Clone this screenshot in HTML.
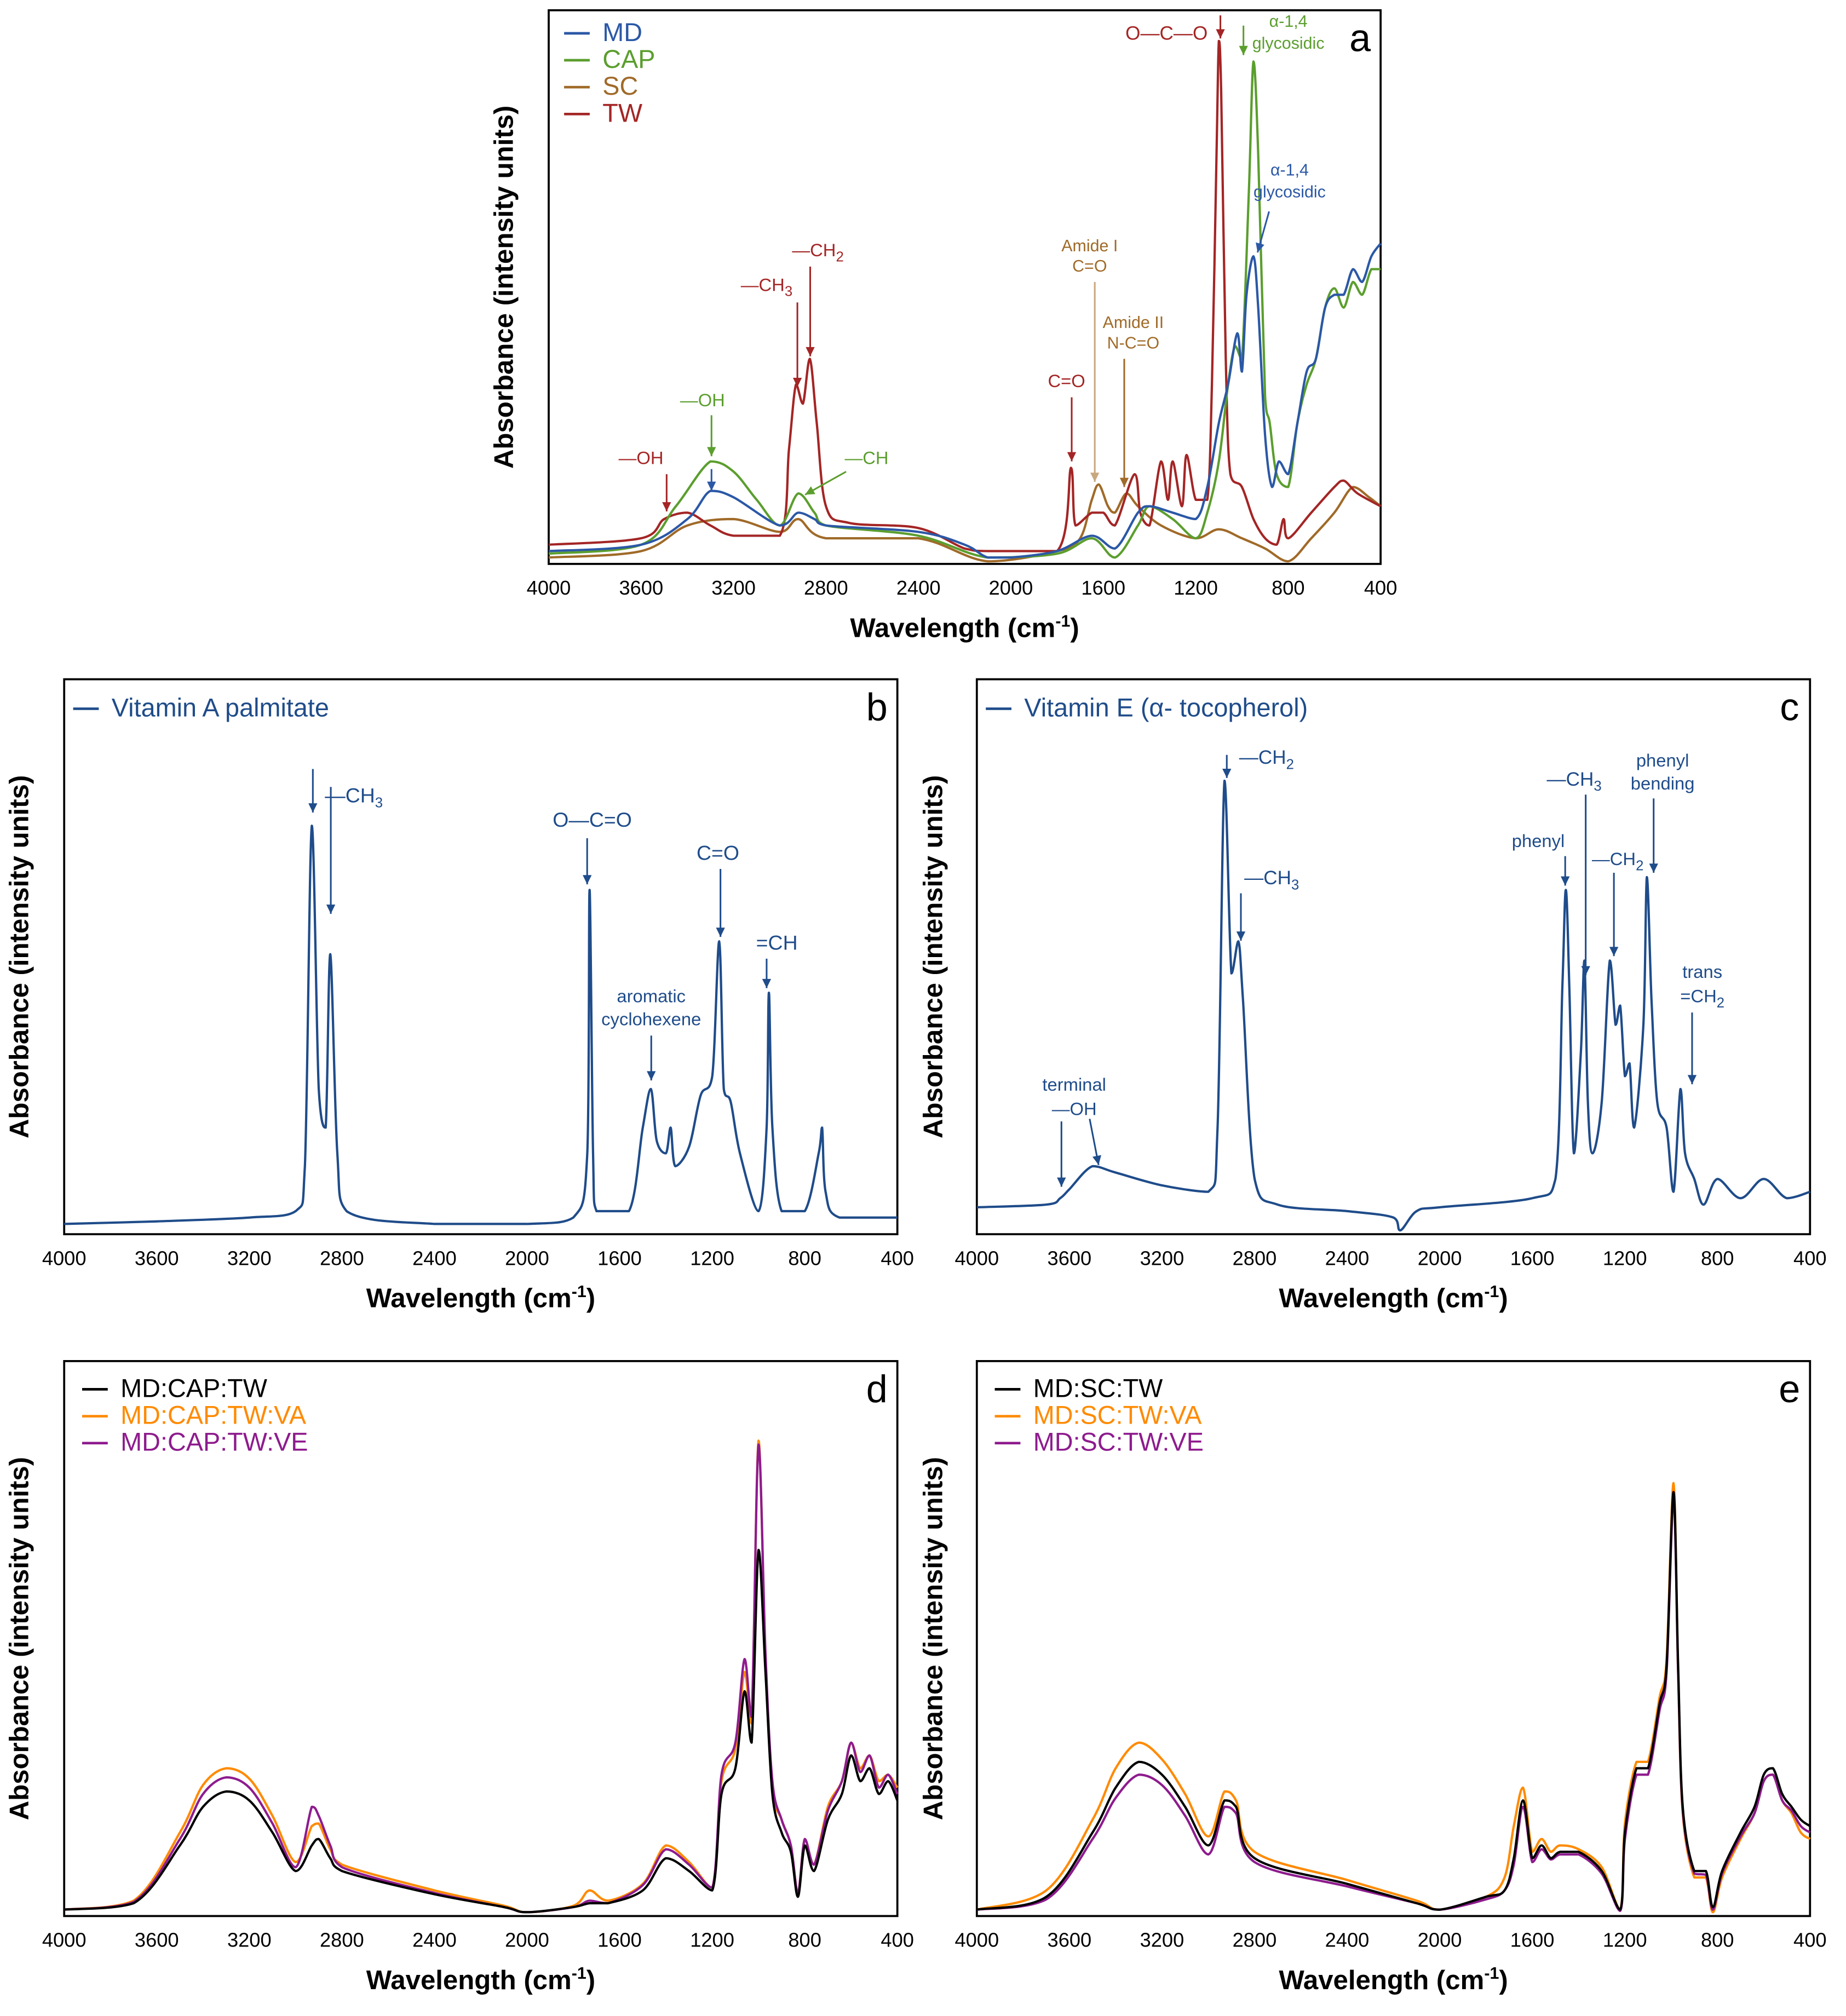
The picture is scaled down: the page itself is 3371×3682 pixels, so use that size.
<!DOCTYPE html>
<html><head><meta charset="utf-8"><style>
html,body{margin:0;padding:0;background:#fff;}
svg{display:block;font-family:"Liberation Sans",sans-serif;}
</style></head><body>
<svg id="fig" width="3371" height="3682" viewBox="0 0 1440 1573" xmlns="http://www.w3.org/2000/svg"></svg>
<script>
// ---------- DATA ----------
const aWn = {
 MD:[4000,3600,3400,3300,3200,3000,2920,2850,2800,2400,2200,2100,2000,1800,1650,1550,1450,1400,1300,1200,1150,1100,1060,1020,1000,980,950,930,900,870,840,800,760,720,680,640,600,560,520,480,440,400],
 CAP:[4000,3600,3450,3300,3200,3100,3000,2920,2850,2800,2400,2100,1800,1650,1550,1450,1400,1300,1200,1150,1100,1060,1030,1000,970,950,930,900,880,850,800,760,720,680,640,600,560,520,480,440,400],
 SC:[4000,3600,3400,3200,3000,2920,2800,2400,2100,1800,1700,1650,1620,1580,1550,1500,1450,1350,1200,1100,1000,900,800,700,600,520,450,400],
 TW:[4000,3600,3500,3400,3300,3200,3000,2960,2930,2900,2870,2840,2800,2700,2400,2200,2100,1800,1740,1720,1650,1600,1550,1465,1440,1400,1350,1320,1300,1260,1240,1200,1150,1130,1110,1100,1090,1070,1050,1000,950,900,850,820,800,700,600,560,500,400]
};
const aVal = {
 MD:[10,15,35,57,52,30,40,35,30,25,15,5,5,10,22,12,40,45,40,35,60,110,140,180,150,210,240,200,100,60,80,70,110,150,160,200,210,210,230,220,240,250],
 CAP:[8,15,45,80,72,50,30,55,40,30,22,5,8,20,5,30,45,35,20,40,80,140,170,160,290,392,320,130,110,70,60,110,140,160,200,215,200,220,210,230,230],
 SC:[5,10,30,35,25,35,20,20,2,10,20,50,62,45,40,55,45,30,20,27,20,12,2,20,40,60,52,45],
 TW:[15,20,35,40,30,22,22,90,140,125,160,110,45,32,28,12,10,10,75,30,40,40,30,70,40,30,80,50,80,45,85,50,50,140,320,408,370,160,70,60,35,20,15,35,20,40,60,65,55,45]
};
const bWn = [4000,3600,3200,3000,2960,2930,2900,2870,2850,2820,2780,2400,2000,1800,1740,1730,1715,1700,1560,1500,1465,1440,1400,1380,1360,1300,1250,1200,1170,1150,1120,1080,1000,965,955,940,900,800,740,725,710,650,400];
const bVal = [8,10,13,18,53,318,113,83,218,63,18,8,8,13,63,268,63,18,18,83,113,73,63,83,53,68,108,123,228,113,103,63,18,83,188,83,18,18,63,83,33,13,13];
const cWn = [4000,3700,3640,3600,3500,3400,3200,3000,2960,2930,2900,2870,2850,2800,2700,2400,2200,2170,2100,2000,1600,1500,1470,1455,1440,1420,1390,1375,1360,1340,1300,1265,1240,1220,1200,1180,1160,1120,1105,1085,1060,1020,990,960,940,900,860,800,700,600,500,400];
const cVal = [21,23,28,35,53,48,38,33,83,353,203,228,183,43,23,18,13,3,18,21,28,43,193,268,193,63,143,213,103,63,103,213,163,178,123,133,83,163,278,183,103,83,33,113,63,43,23,43,28,43,28,33];
const dWn = [4000,3700,3500,3400,3300,3200,3100,3000,2930,2900,2850,2800,2400,2100,2000,1800,1730,1650,1500,1400,1300,1200,1160,1100,1060,1030,1000,970,940,900,860,830,800,760,700,640,600,560,520,480,440,400];
const dBlack = [5,10,55,85,97,90,65,35,55,60,45,35,17,7,3,7,10,10,20,45,35,20,95,115,175,135,285,190,95,65,50,15,55,35,75,95,125,105,115,95,105,90];
const dOrange = [5,12,65,102,115,107,78,42,70,72,52,40,20,8,3,8,20,12,25,55,42,22,105,130,190,150,370,200,100,75,55,18,60,40,85,105,135,115,125,105,110,100];
const dPurple = [5,11,60,95,108,100,72,38,85,78,55,38,18,7,3,7,12,10,24,52,40,22,110,135,200,155,367,205,105,75,55,18,60,40,82,105,135,112,125,100,110,95];
const eWn = [4000,3700,3500,3400,3300,3200,3100,3000,2930,2880,2800,2400,2100,2000,1800,1720,1680,1640,1600,1560,1520,1480,1400,1300,1220,1200,1150,1100,1050,1020,990,970,950,900,850,820,780,700,640,600,560,520,480,440,400];
const eBlack = [5,15,65,100,120,110,85,55,90,85,45,25,10,5,15,20,45,90,45,55,45,50,50,35,5,65,115,115,165,195,330,195,85,35,35,7,35,65,85,110,115,95,85,75,70];
const eOrange = [5,20,75,115,135,122,95,62,97,90,50,28,12,5,15,30,70,100,50,60,50,55,52,38,5,72,120,120,170,200,337,190,80,30,30,3,30,60,80,105,110,90,80,65,60];
const ePurple = [5,13,60,92,110,102,78,48,85,80,42,23,10,5,13,20,40,85,42,52,44,48,48,33,4,60,110,110,160,190,325,190,82,33,32,5,33,62,80,105,110,90,82,70,65];
const xTicks = [4000,3600,3200,2800,2400,2000,1600,1200,800,400];
const yMax = 432;

// ---------- HELPERS ----------
const NS="http://www.w3.org/2000/svg";
const svg=document.getElementById('fig');
function mk(tag,attrs,parent){const e=document.createElementNS(NS,tag);for(const k in attrs)e.setAttribute(k,attrs[k]);(parent||svg).appendChild(e);return e;}
function txt(x,y,s,size,fill,anchor,parent,weight){const t=mk('text',{x:x,y:y,'font-size':size,fill:fill,'text-anchor':anchor||'middle','font-weight':weight||'normal'},parent);t.innerHTML=s;return t;}

function panel(id,L,T,W,H,letter,ylabX){
  const g=mk('g',{});
  
  
  const box=mk('rect',{x:L,y:T,width:W,height:H,fill:'none',stroke:'#000','stroke-width':1.6},g);
  
  
  const xs=w=>L+(4000-w)/3600*W;
  const ys=v=>T+H-v/yMax*H;
  xTicks.forEach(t=>{
    const lb=txt(xs(t),T+H+24,t,15.5,'#000','middle',g);
    
    
  });
  const xt=txt(L+W/2,T+H+57,'Wavelength (cm<tspan dy="-8" font-size="13">-1</tspan><tspan dy="8">)</tspan>',21,'#000','middle',g,'bold');
  
  
  const yt=mk('text',{x:0,y:0,'font-size':21,'font-weight':'bold','text-anchor':'middle',transform:`translate(${ylabX},${T+H/2}) rotate(-90)`},g);
  yt.textContent='Absorbance (intensity units)';
  
  
  const lt=txt(L+W-16,T+32,letter,30,'#000','middle',g);
  
  
  return {g,xs,ys,L,T,W,H};
}
function smoothPath(P){
  let d='M'+P[0][0].toFixed(1)+','+P[0][1].toFixed(1);
  const clamp=(v,a,b)=>Math.max(Math.min(a,b),Math.min(Math.max(a,b),v));
  for(let i=0;i<P.length-1;i++){
    const p0=P[i-1]||P[i],p1=P[i],p2=P[i+1],p3=P[i+2]||P[i+1];
    let c1x=p1[0]+(p2[0]-p0[0])/6,c1y=p1[1]+(p2[1]-p0[1])/6;
    let c2x=p2[0]-(p3[0]-p1[0])/6,c2y=p2[1]-(p3[1]-p1[1])/6;
    c1x=clamp(c1x,p1[0],p2[0]);c2x=clamp(c2x,p1[0],p2[0]);
    c1y=clamp(c1y,p1[1],p2[1]);c2y=clamp(c2y,p1[1],p2[1]);
    d+=` C${c1x.toFixed(1)},${c1y.toFixed(1)} ${c2x.toFixed(1)},${c2y.toFixed(1)} ${p2[0].toFixed(1)},${p2[1].toFixed(1)}`;
  }
  return d;
}
function series(p,wn,vals,color,name){
  const P=wn.map((w,i)=>[p.xs(w),p.ys(vals[i])]);
  const pl=mk('path',{d:smoothPath(P),fill:'none',stroke:color,'stroke-width':1.8,'stroke-linejoin':'round'},p.g);
  
  
}
function legend(p,items,x,y0,dy,size){
  items.forEach((it,i)=>{
    const y=y0+i*dy;
    const ln=mk('line',{x1:x,x2:x+20,y1:y-6,y2:y-6,stroke:it[1],'stroke-width':2},p.g);
    
    
    const t=txt(x+30,y,it[0],size,it[1],'start',p.g);
    
    
  });
}
function arrow(p,x1,y1,x2,y2,c){
  const ln=mk('line',{x1:x1,y1:y1,x2:x2,y2:y2,stroke:c,'stroke-width':1.3},p.g);
  
  
  const a=Math.atan2(y2-y1,x2-x1),s=8;
  const p1=[x2-s*Math.cos(a-0.45),y2-s*Math.sin(a-0.45)],p2=[x2-s*Math.cos(a+0.45),y2-s*Math.sin(a+0.45)];
  const hd=mk('polygon',{points:`${x2},${y2} ${p1} ${p2}`,fill:c},p.g);
  
  
}
function note(p,x,y,s,c,size){
  const t=txt(x,y,s,size||14,c,'middle',p.g);
  
  
}
const sub=n=>`<tspan dy="4" font-size="11">${n}</tspan>`;

const BL='#2b58a6',GR='#5b9e2e',BR='#a06a28',RD='#a42525',VB='#1f4c8a',OR='#ff8a00',PU='#8e1b8e';

// ---------- PANEL A ----------
const pa=panel('a',428,8,649,432,'a',400);
series(pa,aWn.SC,aVal.SC,BR,'series-sc');
series(pa,aWn.TW,aVal.TW,RD,'series-tw');
series(pa,aWn.CAP,aVal.CAP,GR,'series-cap');
series(pa,aWn.MD,aVal.MD,BL,'series-md');
legend(pa,[['MD',BL],['CAP',GR],['SC',BR],['TW',RD]],440,32,21,20);
note(pa,910,31,'O—C—O',RD,15); arrow(pa,952,12,952,30,RD);
note(pa,1005,21,'α-1,4',GR,13); note(pa,1005,38,'glycosidic',GR,13); arrow(pa,970,20,970,43,GR);
note(pa,1006,137,'α-1,4',BL,13); note(pa,1006,154,'glycosidic',BL,13); arrow(pa,990,165,981,197,BL);
note(pa,638,200,'—CH'+sub(2),RD,14); arrow(pa,632,208,632,278,RD);
note(pa,598,227,'—CH'+sub(3),RD,14); arrow(pa,622,236,622,302,RD);
note(pa,850,196,'Amide I',BR,13); note(pa,850,212,'C=O',BR,13); arrow(pa,854,220,854,376,'#c9a77f');
note(pa,884,256,'Amide II',BR,13); note(pa,884,272,'N-C=O',BR,13); arrow(pa,877,280,877,380,BR);
note(pa,832,302,'C=O',RD,14); arrow(pa,836,310,836,360,RD);
note(pa,548,317,'—OH',GR,14); arrow(pa,555,324,555,356,GR); arrow(pa,555,366,555,383,BL);
note(pa,500,362,'—OH',RD,14); arrow(pa,520,370,520,399,RD);
note(pa,676,362,'—CH',GR,14); arrow(pa,660,368,628,386,GR);

// ---------- PANEL B ----------
const pb=panel('b',50,530,650,433,'b',22);
series(pb,bWn,bVal,VB,'series-vitamin-a');
legend(pb,[['Vitamin A palmitate',VB]],57,559,21,20);
arrow(pb,244,600,244,634,VB); arrow(pb,258,614,258,713,VB); note(pb,276,626,'—CH'+sub(3),VB,16);
note(pb,462,645,'O—C=O',VB,16); arrow(pb,458,654,458,690,VB);
note(pb,560,671,'C=O',VB,16); arrow(pb,562,678,562,731,VB);
note(pb,508,782,'aromatic',VB,14); note(pb,508,800,'cyclohexene',VB,14); arrow(pb,508,808,508,843,VB);
note(pb,606,741,'=CH',VB,16); arrow(pb,598,748,598,771,VB);

// ---------- PANEL C ----------
const pc=panel('c',762,530,650,433,'c',735);
series(pc,cWn,cVal,VB,'series-vitamin-e');
legend(pc,[['Vitamin E (α- tocopherol)',VB]],769,559,21,20);
arrow(pc,957,589,957,607,VB); note(pc,988,596,'—CH'+sub(2),VB,15);
note(pc,992,690,'—CH'+sub(3),VB,15); arrow(pc,968,697,968,734,VB);
note(pc,1200,661,'phenyl',VB,14); arrow(pc,1221,668,1221,691,VB);
note(pc,1228,613,'—CH'+sub(3),VB,15); arrow(pc,1237,620,1237,761,VB);
note(pc,1262,675,'—CH'+sub(2),VB,14); arrow(pc,1259,681,1259,746,VB);
note(pc,1297,598,'phenyl',VB,14); note(pc,1297,616,'bending',VB,14); arrow(pc,1290,623,1290,681,VB);
note(pc,1328,763,'trans',VB,14); note(pc,1328,782,'=CH'+sub(2),VB,14); arrow(pc,1320,790,1320,846,VB);
note(pc,838,851,'terminal',VB,14); note(pc,838,870,'—OH',VB,14); arrow(pc,828,875,828,926,VB); arrow(pc,850,873,857,909,VB);

// ---------- PANEL D ----------
const pd=panel('d',50,1062,650,433,'d',22);
series(pd,dWn,dOrange,OR,'series-md-cap-tw-va');
series(pd,dWn,dPurple,PU,'series-md-cap-tw-ve');
series(pd,dWn,dBlack,'#000','series-md-cap-tw');
legend(pd,[['MD:CAP:TW','#000'],['MD:CAP:TW:VA',OR],['MD:CAP:TW:VE',PU]],64,1090,21,20);

// ---------- PANEL E ----------
const pe=panel('e',762,1062,650,433,'e',735);
series(pe,eWn,eOrange,OR,'series-md-sc-tw-va');
series(pe,eWn,ePurple,PU,'series-md-sc-tw-ve');
series(pe,eWn,eBlack,'#000','series-md-sc-tw');
legend(pe,[['MD:SC:TW','#000'],['MD:SC:TW:VA',OR],['MD:SC:TW:VE',PU]],776,1090,21,20);
</script>
</body></html>
